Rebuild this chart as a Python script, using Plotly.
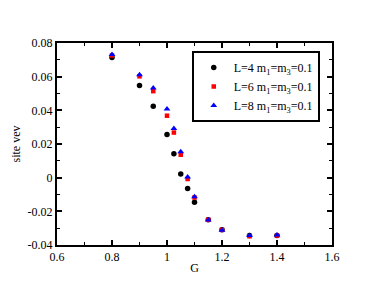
import plotly.graph_objects as go

G = [0.8, 0.9, 0.95, 1.0, 1.025, 1.05, 1.075, 1.1, 1.15, 1.2, 1.3, 1.4]
vev_L4 = [0.0714, 0.0548, 0.0424, 0.0256, 0.0142, 0.0022, -0.0064, -0.0146, -0.0250, -0.0310, -0.0344, -0.0344]
vev_L6 = [0.0726, 0.0602, 0.0514, 0.0368, 0.0268, 0.0136, -0.0008, -0.0118, -0.0250, -0.0310, -0.0348, -0.0344]
vev_L8 = [0.0732, 0.0612, 0.0532, 0.0408, 0.0292, 0.0154, 0.0004, -0.0114, -0.0252, -0.0312, -0.0344, -0.0340]

names = ["L=4 m<sub>1</sub>=m<sub>3</sub>=0.1",
         "L=6 m<sub>1</sub>=m<sub>3</sub>=0.1",
         "L=8 m<sub>1</sub>=m<sub>3</sub>=0.1"]

x_ticks = [0.6, 0.8, 1.0, 1.2, 1.4, 1.6]
x_tick_text = ["0.6", "0.8", "1", "1.2", "1.4", "1.6"]
y_ticks = [-0.04, -0.02, 0, 0.02, 0.04, 0.06, 0.08]
y_tick_text = ["-0.04", "-0.02", "0", "0.02", "0.04", "0.06", "0.08"]

fig = go.Figure()
fig.add_trace(go.Scatter(x=G, y=vev_L4, mode="markers", name=names[0],
                         marker=dict(symbol="circle", size=5.5, color="black")))
fig.add_trace(go.Scatter(x=G, y=vev_L6, mode="markers", name=names[1],
                         marker=dict(symbol="square", size=4.5, color="red")))
fig.add_trace(go.Scatter(x=G, y=vev_L8, mode="markers", name=names[2],
                         marker=dict(symbol="triangle-up", size=6, color="blue")))

font = dict(family="Liberation Serif, Times New Roman, serif", size=12, color="black")
axis_common = dict(showgrid=False, zeroline=False, showline=True, linecolor="black",
                   linewidth=2, mirror="ticks", ticks="inside", ticklen=5, tickwidth=1.5,
                   tickcolor="black", tickfont=font, automargin=False)

fig.update_layout(
    width=374, height=289,
    margin=dict(l=57, r=42, t=43, b=44, autoexpand=False),
    paper_bgcolor="white", plot_bgcolor="white",
    font=font,
    showlegend=True,
    legend=dict(x=0.49, y=0.96, xanchor="left", yanchor="top",
                bgcolor="white", bordercolor="black", borderwidth=2,
                font=dict(family="Liberation Serif, Times New Roman, serif", size=12),
                tracegroupgap=0, itemwidth=30),
    xaxis=dict(range=[0.6, 1.6], tickvals=x_ticks, ticktext=x_tick_text,
               title=dict(text="G", font=font, standoff=0),
               minor=dict(ticks="inside", ticklen=3, tickwidth=1, tickcolor="black", dtick=0.1),
               **axis_common),
    yaxis=dict(range=[-0.04, 0.08], tickvals=y_ticks, ticktext=y_tick_text,
               title=dict(text="site vev", font=font, standoff=4),
               minor=dict(ticks="inside", ticklen=3, tickwidth=1, tickcolor="black", dtick=0.01),
               **axis_common),
)

fig.write_html("out.html", config={"displayModeBar": False},
               post_script="document.body.style.margin='0';")
